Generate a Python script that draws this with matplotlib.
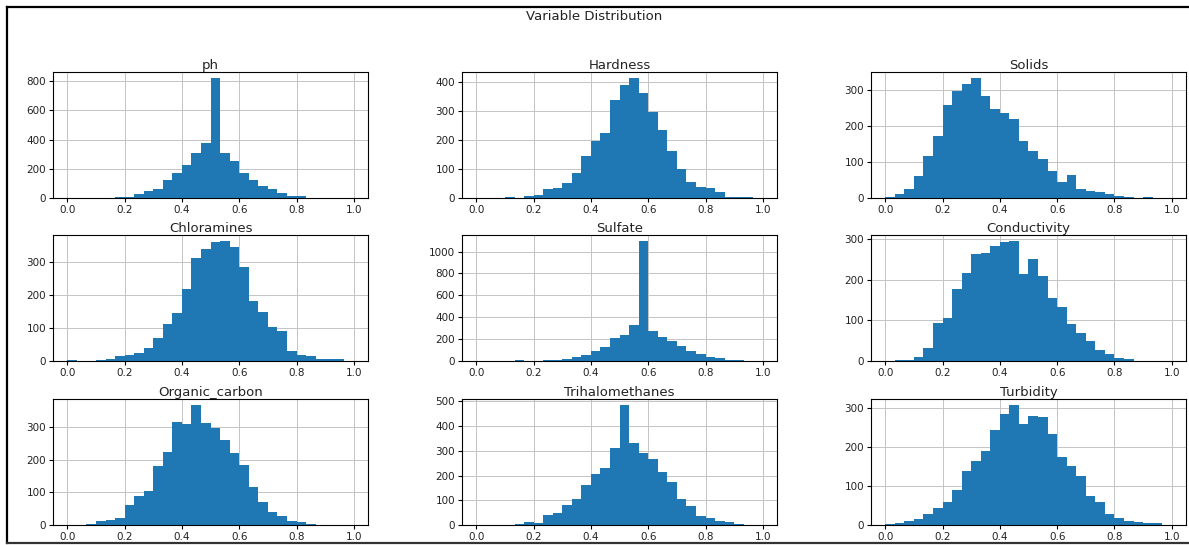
import numpy as np
import matplotlib.pyplot as plt
from matplotlib.lines import Line2D

# 30 equal bins over the min-max scaled range [0, 1]
bin_edges = np.linspace(0, 1, 31)
bin_centers = (bin_edges[:-1] + bin_edges[1:]) / 2

variables = ['ph', 'Hardness', 'Solids',
             'Chloramines', 'Sulfate', 'Conductivity',
             'Organic_carbon', 'Trihalomethanes', 'Turbidity']

ph_counts = [0, 0, 0, 2, 0, 5, 8, 30, 45, 60, 120, 170, 225, 310, 380,
             822, 310, 257, 173, 124, 82, 61, 37, 17, 14, 1, 0, 0, 0, 0]
hardness_counts = [0, 0, 0, 2, 0, 7, 12, 30, 34, 53, 85, 145, 196, 226, 338,
                   391, 415, 365, 298, 234, 163, 100, 57, 37, 34, 20, 3, 3, 3, 1]
solids_counts = [4, 12, 24, 62, 116, 173, 259, 299, 318, 334, 283, 249, 237, 221, 158,
                 130, 110, 75, 45, 63, 24, 20, 16, 11, 6, 3, 0, 4, 0, 0]
chloramines_counts = [2, 0, 0, 2, 6, 15, 18, 25, 41, 71, 112, 146, 220, 313, 341,
                      361, 364, 346, 284, 183, 150, 104, 92, 30, 19, 15, 5, 5, 5, 1]
sulfate_counts = [0, 0, 0, 0, 5, 0, 3, 5, 10, 18, 37, 55, 95, 131, 210,
                  238, 326, 1095, 274, 216, 186, 137, 91, 61, 40, 24, 10, 5, 1, 0]
conductivity_counts = [0, 2, 3, 10, 33, 94, 105, 177, 217, 263, 266, 282, 293, 295, 215,
                       252, 210, 154, 133, 91, 70, 50, 26, 17, 8, 5, 0, 0, 0, 0]
organic_carbon_counts = [0, 0, 2, 12, 16, 20, 61, 88, 105, 182, 225, 315, 310, 368, 313,
                         298, 261, 220, 184, 118, 71, 41, 28, 12, 10, 2, 0, 0, 0, 0]
trihalomethanes_counts = [0, 2, 0, 2, 6, 11, 10, 41, 49, 80, 105, 160, 205, 231, 312,
                          485, 333, 291, 268, 213, 175, 107, 75, 38, 27, 15, 12, 4, 2, 2]
turbidity_counts = [2, 4, 9, 15, 28, 44, 60, 90, 137, 165, 190, 243, 283, 307, 258,
                    280, 276, 233, 174, 150, 126, 74, 60, 28, 18, 10, 7, 4, 4, 0]

all_counts = [ph_counts, hardness_counts, solids_counts,
              chloramines_counts, sulfate_counts, conductivity_counts,
              organic_carbon_counts, trihalomethanes_counts, turbidity_counts]

fig = plt.figure(figsize=(11.89, 5.45), dpi=100)

# 网格布局 (figure fraction)
col_left = [0.0446, 0.3886, 0.7325]
row_bottom = [0.6367, 0.3376, 0.0367]
ax_w, ax_h = 0.265, 0.231

for i, (name, counts) in enumerate(zip(variables, all_counts)):
    ax = fig.add_axes([col_left[i % 3], row_bottom[i // 3], ax_w, ax_h])
    ax.hist(bin_centers, bins=bin_edges, weights=counts, color='#1f77b4')
    ax.grid(True, color='#c4c4c4', linewidth=0.7)
    ax.set_axisbelow(True)
    ax.set_title(name, fontsize=9.5, pad=2, color='#222222')
    ax.set_xticks([0.0, 0.2, 0.4, 0.6, 0.8, 1.0])
    ax.tick_params(labelsize=7.5, length=3, pad=2, labelcolor='#222222')

fig.text(0.5, 1 - 17 / 545, 'Variable Distribution', fontsize=9.5,
         ha='center', va='center', color='#222222')

# 外框线
fig.add_artist(Line2D([7 / 1189, 1.0], [1 - 7 / 545, 1 - 7 / 545],
                      transform=fig.transFigure, color='black', linewidth=1.6))
fig.add_artist(Line2D([7 / 1189, 7 / 1189], [1 - 7 / 545, 2 / 545],
                      transform=fig.transFigure, color='black', linewidth=1.6))
fig.add_artist(Line2D([7 / 1189, 1.0], [2 / 545, 2 / 545],
                      transform=fig.transFigure, color='#333333', linewidth=1.6))

plt.savefig('out.png', dpi=100)
